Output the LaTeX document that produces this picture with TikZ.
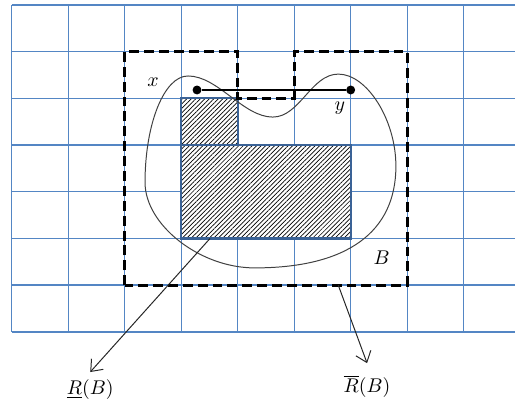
\documentclass[tikz,border=0pt]{standalone}
\usepackage{tikz}
\usetikzlibrary{calc,arrows.meta,patterns.meta}

\definecolor{gridblue}{RGB}{84,134,196}
\definecolor{cellblue}{RGB}{58,98,150}

\begin{document}
\begin{tikzpicture}[
  x=1cm, y=0.8265cm,
  gridline/.style={draw=gridblue, line width=0.7pt},
  upper/.style={draw=black, line width=1.6pt, line join=miter, dash pattern=on 5pt off 2.5pt},
  lower/.style={draw=cellblue, line width=1.1pt, preaction={fill=white},
    pattern={Lines[angle=45,distance=1.6pt,line width=0.35pt]}},
  blob/.style={draw=black!75, line width=0.5pt},
  dot/.style={circle, fill=black, inner sep=0pt, minimum size=4.5pt},
  pointer/.style={draw=black!85, line width=0.5pt, -{Straight Barb[length=5pt,width=8pt]}}
]
\useasboundingbox (-0.207,-1.608) rectangle (8.908,7.107);
% grid
\foreach \i in {0,...,8} \draw[gridline] (\i,0) -- (\i,7);
\foreach \j in {0,...,7} \draw[gridline] (0,\j) -- (8.908,\j);
% lower approximation
\path[lower] (3,4) rectangle (4,5);
\path[lower] (3,2) rectangle (6,4);
% upper approximation
\draw[upper] (2,1) -- (2,6) -- (4,6) -- (4,5) -- (5,5) -- (5,6) -- (7,6) -- (7,1) -- cycle;
% the set
\draw[blob] (3.12,5.48) .. controls (3.65,5.48) and (4.10,4.60) .. (4.62,4.60)
  .. controls (5.10,4.60) and (5.30,5.52) .. (5.78,5.52)
  .. controls (6.29,5.52) and (6.80,4.54) .. (6.80,3.55)
  .. controls (6.80,2.13) and (5.93,1.37) .. (4.30,1.37)
  .. controls (3.33,1.37) and (2.36,2.29) .. (2.36,3.20)
  .. controls (2.36,4.46) and (2.70,5.48) .. cycle;
% points x and y
\node[dot] (xpt) at (3.28,5.18) {};
\node[dot] (ypt) at (6.00,5.18) {};
\draw[line width=0.6pt] (xpt) -- (ypt);
\node (xlab) at (2.50,5.35) {$x$};
\node (ylab) at (5.81,4.79) {$y$};
\node (blab) at (6.55,1.58) {$B$};
% labels
\node (lowlab) at (1.39,-1.24) {$\underline{R}(B)$};
\node (upplab) at (6.29,-1.16) {$\overline{R}(B)$};
\coordinate (lowstart) at (3.51,2);
\coordinate (lowtip) at (1.39,-0.86);
\coordinate (uppstart) at (5.78,1);
\coordinate (upptip) at (6.29,-0.67);
\draw[pointer] (lowstart) -- (lowtip);
\draw[pointer] (uppstart) -- (upptip);
\end{tikzpicture}
\end{document}
